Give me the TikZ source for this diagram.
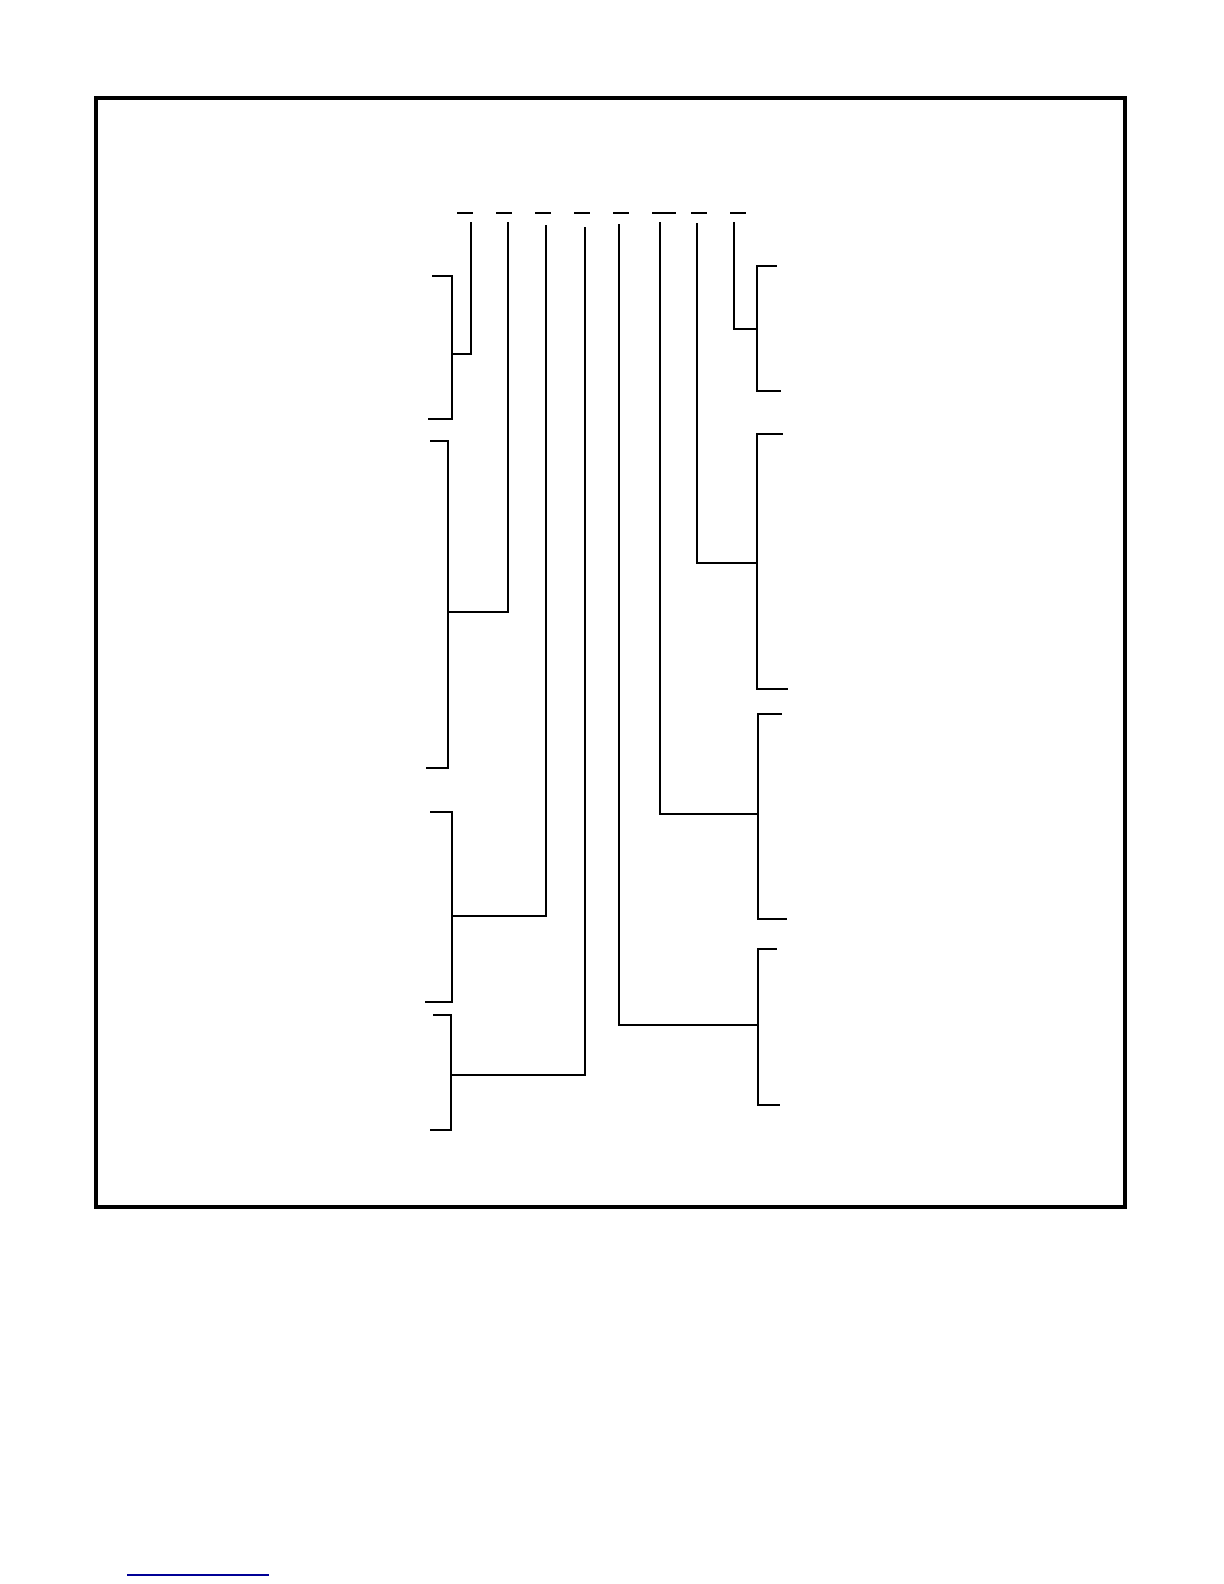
\documentclass[tikz,border=0pt]{standalone}
\usepackage{tikz}
\usetikzlibrary{positioning}
\definecolor{linkblue}{RGB}{0,0,150}

\begin{document}
\begin{tikzpicture}[x=0.5bp,y=-0.5bp,
	wire/.style={line width=1.1bp,line cap=rect},
	frame/.style={line width=1.6bp},
	fieldmark/.style={line width=0.6bp}]
	\useasboundingbox (0,0) rectangle (1224,1584);

	% outer frame
	\draw [frame] (96,98) rectangle (1125,1207);

	% field marks
	\draw [fieldmark] (457,213) -- (473,213);
	\draw [fieldmark] (496,213) -- (512,213);
	\draw [fieldmark] (535,213) -- (551,213);
	\draw [fieldmark] (574,213) -- (590,213);
	\draw [fieldmark] (613,213) -- (629,213);
	\draw [fieldmark] (652,213) -- (676,213);
	\draw [fieldmark] (691,213) -- (707,213);
	\draw [fieldmark] (730,213) -- (746,213);

	% field tops
	\coordinate (f1) at (471,223);
	\coordinate (f2) at (508,223);
	\coordinate (f3) at (546,226);
	\coordinate (f4) at (585,228);
	\coordinate (f5) at (619,225);
	\coordinate (f6) at (660,223);
	\coordinate (f7) at (697,224);
	\coordinate (f8) at (734,223);

	% left brackets
	\coordinate (L1a) at (433,276);  \coordinate (L1b) at (429,419);  \coordinate (L1) at (452,354);
	\coordinate (L2a) at (431,441);  \coordinate (L2b) at (427,768);  \coordinate (L2) at (448,612);
	\coordinate (L3a) at (431,812);  \coordinate (L3b) at (426,1002); \coordinate (L3) at (452,916);
	\coordinate (L4a) at (434,1015); \coordinate (L4b) at (431,1130); \coordinate (L4) at (451,1075);

	% right brackets
	\coordinate (R1a) at (776,266);  \coordinate (R1b) at (780,391);  \coordinate (R1) at (757,329);
	\coordinate (R2a) at (782,434);  \coordinate (R2b) at (787,689);  \coordinate (R2) at (757,563);
	\coordinate (R3a) at (781,714);  \coordinate (R3b) at (786,919);  \coordinate (R3) at (758,814);
	\coordinate (R4a) at (776,949);  \coordinate (R4b) at (779,1105); \coordinate (R4) at (758,1025);

	\draw [wire] (L1a) -| (L1) |- (L1b);
	\draw [wire] (L2a) -| (L2) |- (L2b);
	\draw [wire] (L3a) -| (L3) |- (L3b);
	\draw [wire] (L4a) -| (L4) |- (L4b);
	\draw [wire] (R1a) -| (R1) |- (R1b);
	\draw [wire] (R2a) -| (R2) |- (R2b);
	\draw [wire] (R3a) -| (R3) |- (R3b);
	\draw [wire] (R4a) -| (R4) |- (R4b);

	% field connectors
	\draw [wire] (f1) |- (L1);
	\draw [wire] (f2) |- (L2);
	\draw [wire] (f3) |- (L3);
	\draw [wire] (f4) |- (L4);
	\draw [wire] (f5) |- (R4);
	\draw [wire] (f6) |- (R3);
	\draw [wire] (f7) |- (R2);
	\draw [wire] (f8) |- (R1);

	% footnote rule
	\draw [linkblue, line width=0.6bp] (127,1575) -- (269,1575);
\end{tikzpicture}
\end{document}
